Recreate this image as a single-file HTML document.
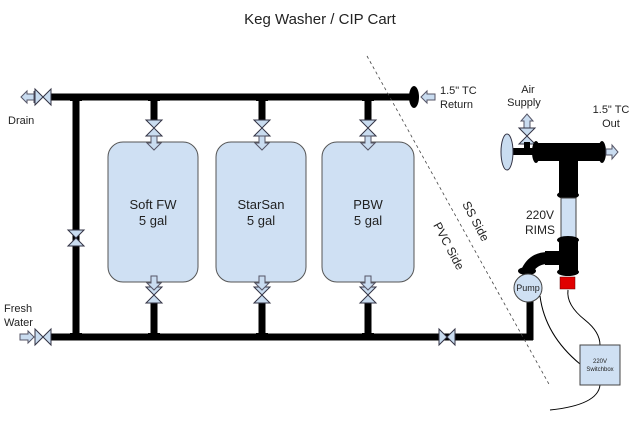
<!DOCTYPE html>
<html><head><meta charset="utf-8"><style>body{margin:0;background:#fff}svg{display:block}text{font-family:"Liberation Sans",sans-serif;fill:#222}</style></head><body>
<svg width="640" height="421" viewBox="0 0 640 421">
<defs>
<g id="vh"><path d="M-8,-8 L8,8 L8,-8 L-8,8 Z" fill="#c9dcf0" stroke="#334" stroke-width="1"/></g>
<g id="vv"><path d="M-8,-8 L8,8 L-8,8 L8,-8 Z" fill="#c9dcf0" stroke="#334" stroke-width="1"/></g>
<g id="ad"><path d="M-3,-7 L3,-7 L3,0 L7,0 L0,7 L-7,0 L-3,0 Z" fill="#c9dcf0" stroke="#556" stroke-width="1"/></g>
</defs>
<text x="320" y="24" font-size="15" text-anchor="middle">Keg Washer / CIP Cart</text>
<g stroke="#000" stroke-width="7" fill="none">
<line x1="48" y1="97" x2="412" y2="97"/>
<line x1="48" y1="337" x2="533" y2="337"/>
<line x1="530" y1="340" x2="530" y2="298"/>
<line x1="76" y1="97" x2="76" y2="337"/>
<line x1="154" y1="97" x2="154" y2="122"/><line x1="262" y1="97" x2="262" y2="122"/><line x1="368" y1="97" x2="368" y2="122"/>
<line x1="154" y1="300" x2="154" y2="337"/><line x1="262" y1="300" x2="262" y2="337"/><line x1="368" y1="300" x2="368" y2="337"/>
</g>
<g fill="#000"><rect x="70" y="94" width="12" height="7"/><rect x="148" y="94" width="12" height="7"/><rect x="256" y="94" width="12" height="7"/><rect x="362" y="94" width="12" height="7"/>
<rect x="70" y="333" width="12" height="7"/><rect x="148" y="333" width="12" height="7"/><rect x="256" y="333" width="12" height="7"/><rect x="362" y="333" width="12" height="7"/></g>
<ellipse cx="414" cy="97" rx="5" ry="11" fill="#000"/>
<g fill="#cfe0f3" stroke="#555" stroke-width="1">
<rect x="108" y="142" width="90" height="140" rx="15"/>
<rect x="216" y="142" width="90" height="140" rx="15"/>
<rect x="322" y="142" width="92" height="140" rx="15"/>
</g>
<text x="153" y="209" font-size="13" text-anchor="middle">Soft FW</text><text x="153" y="225" font-size="13" text-anchor="middle">5 gal</text>
<text x="261" y="209" font-size="13" text-anchor="middle">StarSan</text><text x="261" y="225" font-size="13" text-anchor="middle">5 gal</text>
<text x="368" y="209" font-size="13" text-anchor="middle">PBW</text><text x="368" y="225" font-size="13" text-anchor="middle">5 gal</text>
<use href="#vv" x="154" y="128"/><use href="#vv" x="262" y="128"/><use href="#vv" x="368" y="128"/>
<use href="#vv" x="154" y="295"/><use href="#vv" x="262" y="295"/><use href="#vv" x="368" y="295"/>
<use href="#ad" x="154" y="143"/><use href="#ad" x="262" y="143"/><use href="#ad" x="368" y="143"/>
<use href="#ad" x="154" y="283"/><use href="#ad" x="262" y="283"/><use href="#ad" x="368" y="283"/>
<use href="#vv" x="76" y="238"/>
<use href="#vh" x="43" y="97"/><use href="#vh" x="43" y="337"/><use href="#vh" x="447" y="337"/>
<path d="M21,97 L27,91 L27,94 L34,94 L34,100 L27,100 L27,103 Z M34,91 L34,103" fill="#c9dcf0" stroke="#556"/>
<path d="M20,334 L28,334 L28,331 L34,337 L28,343 L28,340 L20,340 Z" fill="#c9dcf0" stroke="#556"/>
<path d="M435,94 L427,94 L427,91 L421,97 L427,103 L427,100 L435,100 Z" fill="#c9dcf0" stroke="#556"/>
<text x="8" y="124" font-size="11">Drain</text>
<text x="4" y="312" font-size="11">Fresh</text><text x="4" y="326" font-size="11">Water</text>
<text x="440" y="94" font-size="11">1.5" TC</text><text x="440" y="108" font-size="11">Return</text>
<line x1="367" y1="56" x2="550" y2="386" stroke="#444" stroke-width="0.8" stroke-dasharray="3,3"/>
<text transform="translate(462,204) rotate(62)" font-size="12">SS Side</text>
<text transform="translate(433,225) rotate(62)" font-size="12">PVC Side</text>
<text x="528" y="93" font-size="11" text-anchor="middle">Air</text><text x="524" y="106" font-size="11" text-anchor="middle">Supply</text>
<text x="611" y="113" font-size="11" text-anchor="middle">1.5" TC</text><text x="611" y="127" font-size="11" text-anchor="middle">Out</text>
<path d="M524,128 L524,121 L521,121 L527,114 L533,121 L530,121 L530,128 Z" fill="#c9dcf0" stroke="#556"/>
<use href="#vv" x="527" y="136"/>
<rect x="508" y="148" width="30" height="7" fill="#000"/>
<rect x="524" y="142" width="6" height="10" fill="#000"/>
<ellipse cx="507" cy="152" rx="6" ry="18" fill="#c9dcf0" stroke="#334"/>
<rect x="536" y="143" width="66" height="18" fill="#000"/>
<ellipse cx="536" cy="152" rx="4" ry="11" fill="#000"/><ellipse cx="602" cy="152" rx="4" ry="11" fill="#000"/>
<path d="M606,149 L612,149 L612,145 L618,152 L612,159 L612,155 L606,155 Z" fill="#c9dcf0" stroke="#556"/>
<rect x="559" y="158" width="19" height="37" fill="#000"/>
<ellipse cx="568" cy="195" rx="11" ry="4" fill="#000"/>
<rect x="561" y="198" width="15" height="40" fill="#cfe0f3" stroke="#444"/>
<rect x="559" y="238" width="19" height="36" fill="#000"/>
<ellipse cx="568" cy="240" rx="11" ry="4" fill="#000"/><ellipse cx="568" cy="272" rx="11" ry="4" fill="#000"/>
<rect x="545" y="251" width="16" height="14" fill="#000"/>
<path d="M522,268 Q530,252 548,252 L548,264 Q538,264 533,272 Z" fill="#000"/>
<ellipse cx="527" cy="271" rx="9" ry="4" fill="#000"/>
<rect x="560" y="277" width="15" height="12" fill="#e00000" stroke="#600" stroke-width="0.5"/>
<text x="540" y="219" font-size="12" text-anchor="middle">220V</text><text x="540" y="234" font-size="12" text-anchor="middle">RIMS</text>
<circle cx="528" cy="288" r="14" fill="#cfe0f3" stroke="#444"/>
<text x="528" y="291" font-size="9" text-anchor="middle">Pump</text>
<path d="M540,296 Q545,335 580,364" fill="none" stroke="#000"/>
<path d="M568,290 Q566,305 585,320 Q600,332 600,345" fill="none" stroke="#000"/>
<path d="M600,385 Q598,405 550,410" fill="none" stroke="#000"/>
<rect x="580" y="345" width="40" height="40" fill="#cfe0f3" stroke="#444"/>
<text x="600" y="363" font-size="6" text-anchor="middle">220V</text><text x="600" y="371" font-size="6" text-anchor="middle">Switchbox</text>
</svg>
</body></html>
